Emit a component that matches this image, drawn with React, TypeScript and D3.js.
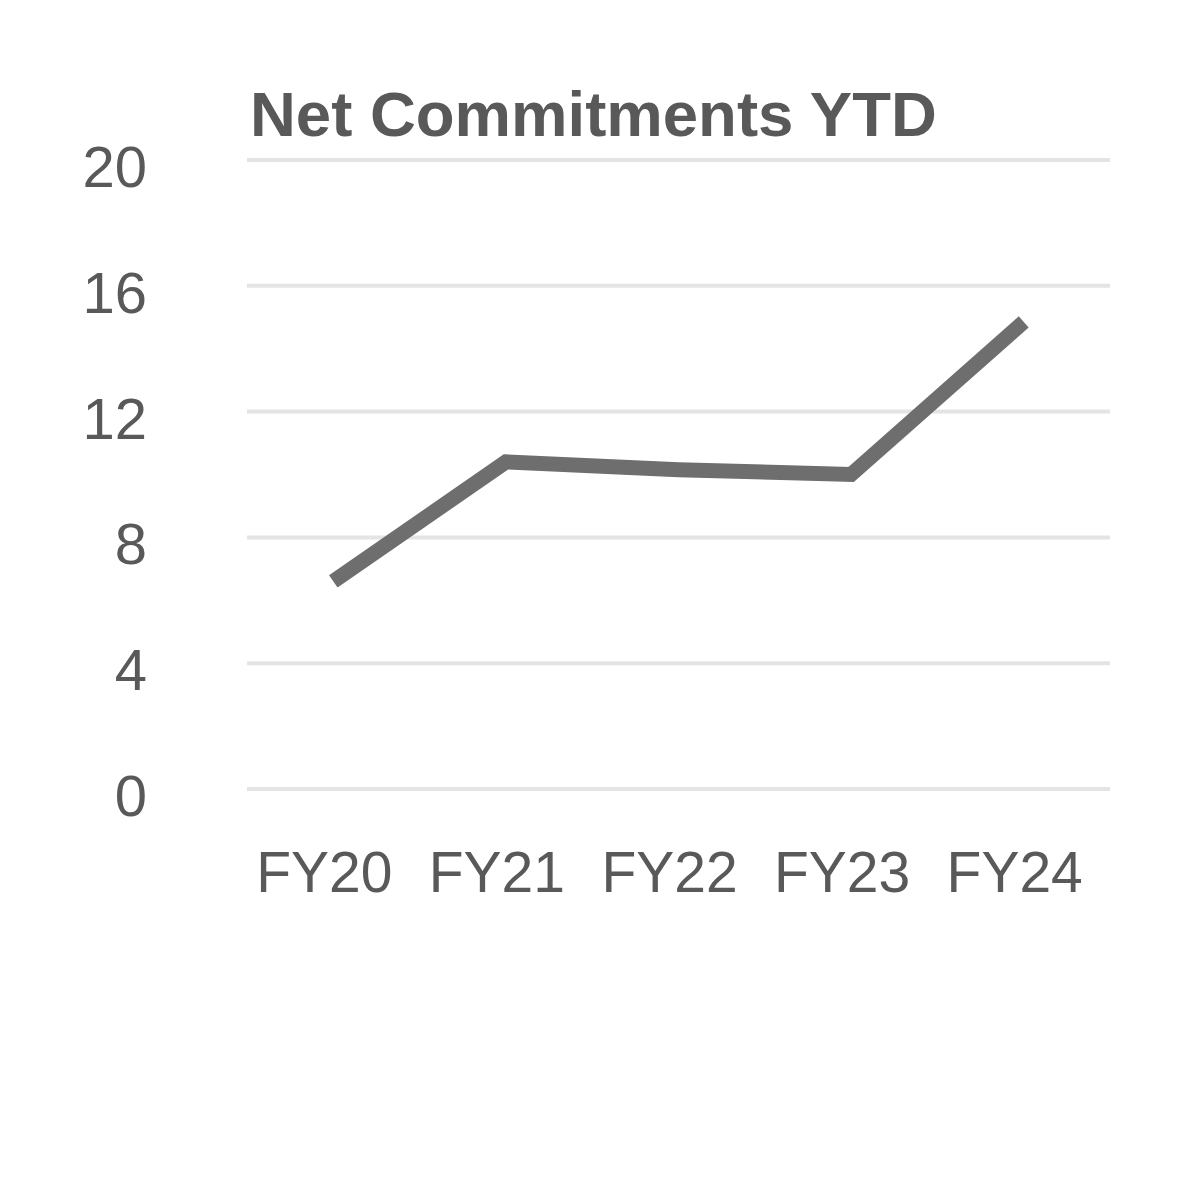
import React from "react";
import * as d3 from "d3";

const categories = ["FY20", "FY21", "FY22", "FY23", "FY24"];
const values = [6.6, 10.4, 10.15, 10.0, 14.85];
const yTicks = [0, 4, 8, 12, 16, 20];
const title = "Net Commitments YTD";

export default function App() {
  const W = 1200, H = 1200;
  const plotLeft = 247, plotRight = 1110;
  const x = d3.scaleBand<string>().domain(categories).range([plotLeft, plotRight]);
  const y = d3.scaleLinear().domain([0, 20]).range([789, 160]);
  const cx = (c: string) => (x(c) as number) + x.bandwidth() / 2;
  const line = d3
    .line<number>()
    .x((_, i) => cx(categories[i]))
    .y((d) => y(d));
  const font = "'Liberation Sans', Arial, sans-serif";
  const textColor = "#595959";
  return (
    <svg width={W} height={H} style={{ position: "absolute", left: 0, top: 0, background: "#fff" }}>
      <rect width={W} height={H} fill="#fff" />
      <text x={250} y={136} fontFamily={font} fontWeight="bold" fontSize={63.5} fill={textColor}>
        {title}
      </text>
      {yTicks.map((t) => (
        <g key={t}>
          <line x1={plotLeft} x2={plotRight} y1={y(t)} y2={y(t)} stroke="#e4e4e4" strokeWidth={4} />
          <text x={147} y={y(t) + 27} textAnchor="end" fontFamily={font} fontSize={58} fill={textColor}>
            {t}
          </text>
        </g>
      ))}
      <path d={line(values) || ""} fill="none" stroke="#6e6e6e" strokeWidth={15} strokeLinejoin="miter" strokeLinecap="butt" />
      {categories.map((c) => (
        <text key={c} x={cx(c) - 9} y={892} textAnchor="middle" fontFamily={font} fontSize={57} fill={textColor}>
          {c}
        </text>
      ))}
    </svg>
  );
}
